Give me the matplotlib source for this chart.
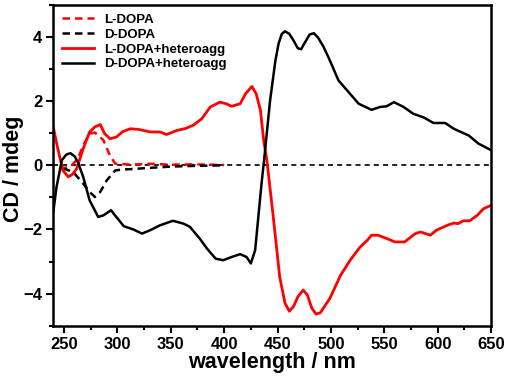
## CD spectra: DOPA enantiomers with and without heteroaggregates
import matplotlib.pyplot as plt
from matplotlib.ticker import MultipleLocator

plt.rcParams['font.family'] = ['Liberation Sans', 'DejaVu Sans']
plt.rcParams['font.weight'] = 'bold'

# ===== Data =====
l_het_x = [240, 244, 249, 254, 258, 262, 268, 274, 279, 284, 288, 293, 299, 305, 312,
           320, 331, 340, 346, 356, 364, 371, 379, 387, 396, 402, 407, 415, 420, 426,
           430, 434, 437, 440, 446, 452, 457, 461, 465, 469, 474, 478, 482, 486, 490, 499, 509,
           518, 527, 534, 538, 544, 552, 560, 569, 579, 584, 593, 599, 609, 615, 619,
           624, 630, 637, 643, 650]
l_het_y = [1.19, 0.55, -0.16, -0.36, -0.28, -0.10, 0.52, 1.04, 1.20, 1.27, 0.99, 0.83, 0.88, 1.05, 1.14,
           1.12, 1.04, 1.04, 0.96, 1.09, 1.15, 1.25, 1.45, 1.82, 1.97, 1.92, 1.84, 1.92, 2.23, 2.46,
           2.23, 1.71, 0.78, 0.16, -1.61, -3.48, -4.30, -4.55, -4.40, -4.10, -3.89, -4.05, -4.45, -4.64, -4.60, -4.15, -3.43,
           -2.96, -2.56, -2.34, -2.18, -2.18, -2.28, -2.39, -2.39, -2.13, -2.08, -2.18, -2.02, -1.87, -1.80, -1.82,
           -1.73, -1.73, -1.56, -1.35, -1.25]

d_het_x = [240, 243, 248, 252, 256, 260, 263, 268, 274, 282, 287, 294, 299, 306, 315,
           323, 331, 340, 352, 362, 368, 377, 384, 392, 399, 407, 415, 421, 425, 429,
           432, 435, 438, 443, 448, 451, 454, 457, 461, 465, 469, 472, 476, 480, 484, 488,
           493, 499, 507, 515, 526, 538, 546, 552, 559, 568, 577, 587, 596, 607, 615, 629, 638, 650]
d_het_y = [-1.45, -0.68, 0.16, 0.33, 0.38, 0.28, 0.10, -0.36, -1.09, -1.61, -1.56, -1.40, -1.61, -1.90, -2.00,
           -2.13, -2.02, -1.87, -1.73, -1.82, -1.92, -2.28, -2.60, -2.91, -2.96, -2.86, -2.77, -2.86, -3.06, -2.65,
           -1.61, -0.57, 0.36, 2.02, 3.27, 3.80, 4.10, 4.18, 4.10, 3.89, 3.65, 3.62, 3.85, 4.08, 4.12, 3.98,
           3.70, 3.27, 2.65, 2.34, 1.92, 1.73, 1.82, 1.84, 1.97, 1.82, 1.61, 1.49, 1.32, 1.32, 1.14, 0.93, 0.68, 0.47]

l_dopa_x = [246, 250, 256, 263, 268, 274, 279, 287, 293, 298, 305, 312, 330, 350, 370, 400]
l_dopa_y = [-0.10, -0.08, -0.05, 0.21, 0.62, 0.99, 1.02, 0.78, 0.31, 0.05, 0.04, 0.02, 0.05, 0.02, 0.03, 0.01]

d_dopa_x = [249, 254, 260, 268, 274, 279, 284, 290, 298, 305, 312, 330, 350, 370, 400]
d_dopa_y = [-0.10, -0.15, -0.26, -0.57, -0.83, -0.99, -0.83, -0.47, -0.16, -0.13, -0.12, -0.08, -0.04, -0.02, 0.00]

# ===== Plot =====
fig = plt.figure(figsize=(5.10, 3.84), dpi=100)
ax = fig.add_axes([0.1045, 0.152, 0.8585, 0.835])

ax.axhline(0, color="black", lw=1.2, ls=(0, (3, 2.5)), zorder=1)
ax.plot(l_dopa_x, l_dopa_y, color="red", lw=1.8, ls=(0, (3, 2)), label="L-DOPA")
ax.plot(d_dopa_x, d_dopa_y, color="black", lw=1.8, ls=(0, (3, 2)), label="D-DOPA")
ax.plot(l_het_x, l_het_y, color="red", lw=2.0, label="L-DOPA+heteroagg")
ax.plot(d_het_x, d_het_y, color="black", lw=1.8, label="D-DOPA+heteroagg")

ax.set_xlim(240, 650)
ax.set_ylim(-5, 5)
ax.xaxis.set_major_locator(MultipleLocator(50))
ax.xaxis.set_minor_locator(MultipleLocator(25))
ax.yaxis.set_major_locator(MultipleLocator(2))
ax.yaxis.set_minor_locator(MultipleLocator(1))
ax.tick_params(which="both", direction="out", width=1.5, labelsize=12)
ax.tick_params(which="major", length=5, pad=3)
ax.tick_params(which="minor", length=3)
for s in ax.spines.values():
    s.set_linewidth(1.8)

ax.set_xlabel("wavelength / nm", fontsize=15.5, fontweight="bold", labelpad=0)
ax.set_ylabel("CD / mdeg", fontsize=15.5, fontweight="bold")
ax.yaxis.set_label_coords(-0.068, 0.49)

ax.legend(loc="upper left", frameon=False, fontsize=9.5, handlelength=2.4,
          labelspacing=0.2, borderaxespad=0.25, handletextpad=0.8)

fig.savefig("out.png", dpi=100)
